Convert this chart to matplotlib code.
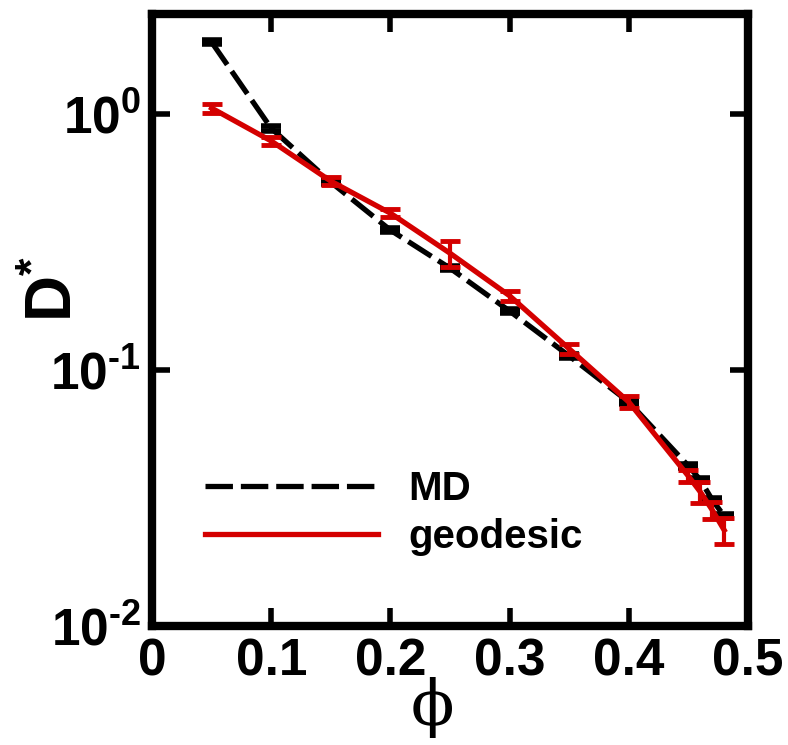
import matplotlib
matplotlib.use("Agg")
import matplotlib.pyplot as plt
from matplotlib.ticker import FixedLocator, NullLocator, FixedFormatter
from matplotlib.lines import Line2D

plt.rcParams['font.family'] = ['Liberation Sans', 'DejaVu Sans']
plt.rcParams['mathtext.fontset'] = 'custom'
plt.rcParams['mathtext.bf'] = 'Liberation Sans:bold'
plt.rcParams['mathtext.rm'] = 'Liberation Sans:bold'

phi = [0.05, 0.10, 0.15, 0.20, 0.25, 0.30, 0.35, 0.40, 0.45, 0.46, 0.47, 0.48]
md = [1.91, 0.88, 0.542, 0.352, 0.250, 0.170, 0.1135, 0.075, 0.0422, 0.0372, 0.0311, 0.0269]
md_err = [0.03, 0.02, 0.010, 0.006, 0.004, 0.003, 0.002, 0.0013, 0.0008, 0.0007, 0.0006, 0.0005]
geo = [1.055, 0.785, 0.547, 0.410, 0.286, 0.195, 0.121, 0.075, 0.0385, 0.0334, 0.0284, 0.0237]
geo_err = [0.043, 0.028, 0.020, 0.015, 0.033, 0.009, 0.0056, 0.0041, 0.0021, 0.0031, 0.0021, 0.0027]

xticks = [0, 0.1, 0.2, 0.3, 0.4, 0.5]
xticklabels = ['0', '0.1', '0.2', '0.3', '0.4', '0.5']
yticks = [0.01, 0.1, 1.0]
yticklabels = [r'$\mathbf{10^{\text{-}2}}$', r'$\mathbf{10^{\text{-}1}}$', r'$\mathbf{10^{0}}$']

red = '#d40000'

fig = plt.figure(figsize=(7.88, 7.45), dpi=100)
ax = fig.add_axes([152/788, 1 - 626/745, (748-152)/788, (626-14)/745])

ax.errorbar(phi, md, yerr=md_err, color='black', lw=3.8, dashes=(5.2, 1.5),
            capsize=7, capthick=4, elinewidth=3, label='MD', zorder=2)
ax.errorbar(phi, geo, yerr=geo_err, color=red, lw=3.8,
            capsize=7, capthick=3.5, elinewidth=3, label='geodesic', zorder=3)

ax.set_yscale('log')
ax.set_xlim(0, 0.5)
ax.set_ylim(0.01, 2.46)

ax.xaxis.set_major_locator(FixedLocator(xticks))
ax.xaxis.set_major_formatter(FixedFormatter(xticklabels))
ax.yaxis.set_major_locator(FixedLocator(yticks))
ax.yaxis.set_major_formatter(FixedFormatter(yticklabels))
ax.yaxis.set_minor_locator(NullLocator())
ax.xaxis.set_minor_locator(NullLocator())

ax.tick_params(which='major', direction='in', length=13, width=4,
               top=True, right=True, labelsize=37, pad=8)
for lab in ax.get_xticklabels():
    lab.set_fontweight('bold')

for s in ax.spines.values():
    s.set_linewidth(6)

ax.set_xlabel('ϕ', family='DejaVu Serif', fontsize=46)
ax.xaxis.set_label_coords(0.47, -0.083)
ax.set_ylabel(r'$\mathbf{D^{*}}$', fontsize=46)
ax.yaxis.set_label_coords(-0.112, 0.55)

handles = [Line2D([], [], color='black', lw=3.8, dashes=(5.2, 1.5)),
           Line2D([], [], color=red, lw=3.8)]
leg = ax.legend(handles, ['MD', 'geodesic'], loc='upper left',
                bbox_to_anchor=(0.089, 0.255), frameon=False, borderpad=0,
                borderaxespad=0, handlelength=4.3, handletextpad=0.75,
                labelspacing=0.25, prop={'weight': 'bold', 'size': 29})

fig.savefig('out.png', dpi=100)
